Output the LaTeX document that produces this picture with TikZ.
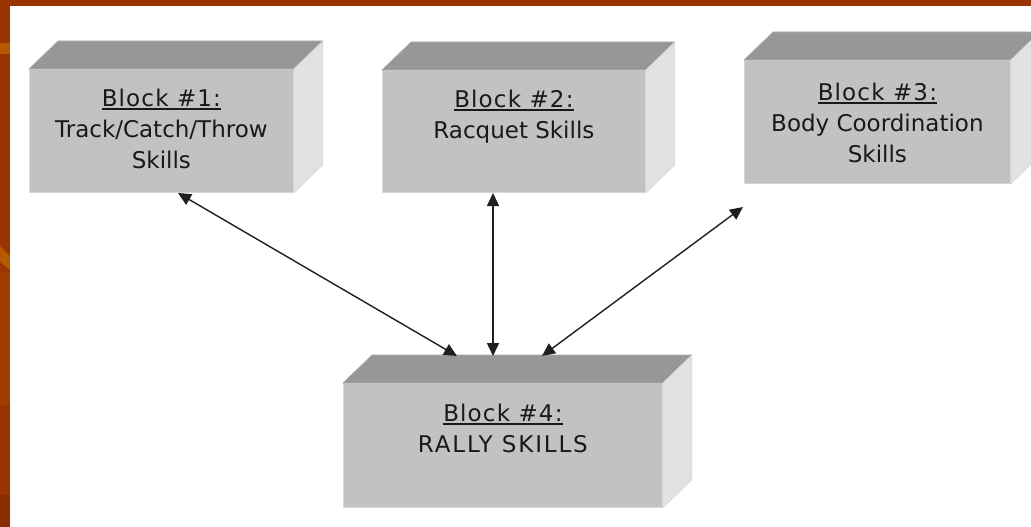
\documentclass[tikz,border=0pt]{standalone}
\usepackage{fontspec}
\setmainfont{DejaVu Sans}
\usetikzlibrary{arrows.meta,calc}
\definecolor{bandcol}{HTML}{993300}
\definecolor{bandlight}{HTML}{B35A00}
\definecolor{bandmid}{HTML}{A13D00}
\definecolor{banddark}{HTML}{8A2C00}
\definecolor{frontcol}{HTML}{C2C2C2}
\definecolor{topcol}{HTML}{979797}
\definecolor{sidecol}{HTML}{E2E2E2}
\definecolor{edgecol}{HTML}{D6D6D6}
\newcommand\blk[1]{\setbox0=\hbox{\addfontfeature{LetterSpace=5}#1}\rlap{\rule[-3.6pt]{\wd0}{1.9pt}}\box0}
\tikzset{
  front/.style={rectangle, fill=frontcol, draw=edgecol, line width=0.8pt, inner sep=0pt, anchor=north west},
  topface/.style={fill=topcol, draw=topcol!80!white, line width=0.6pt},
  sideface/.style={fill=sidecol, draw=edgecol, line width=0.6pt},
  label/.style={align=center, anchor=north, inner sep=0pt, text=black!90, font=\fontsize{23}{31}\selectfont},
  arr/.style={{Triangle[length=13pt,width=12pt]}-{Triangle[length=13pt,width=12pt]}, line width=1.4pt, black!88}
}
\newcommand\cube[1]{%
  \fill[topface] (#1.north west) -- ++(29,-28) -- ($(#1.north east)+(29,-28)$) -- (#1.north east) -- cycle;
  \fill[sideface] (#1.north east) -- ++(29,-28) -- ($(#1.south east)+(29,-28)$) -- (#1.south east) -- cycle;
}
\begin{document}
\begin{tikzpicture}[x=1pt,y=-1pt]
\useasboundingbox (0,0) rectangle (1031,527);
\clip (0,0) rectangle (1031,527);
% background frame
\fill[bandcol] (0,0) rectangle (1031,527);
\fill[bandlight] (0,43) rectangle (10,54);
\fill[bandlight] (0,246) -- (10,256) -- (10,270) -- (0,262) -- cycle;
\fill[bandmid] (0,272) rectangle (10,405);
\fill[banddark] (0,495) rectangle (10,527);
\fill[white] (10,6) rectangle (1031,527);

% blocks (front faces)
\node[front, minimum width=264pt, minimum height=123pt] (b1) at (29,69) {};
\node[front, minimum width=263pt, minimum height=122pt] (b2) at (382,70) {};
\node[front, minimum width=266pt, minimum height=123pt] (b3) at (744,60) {};
\node[front, minimum width=319pt, minimum height=124pt] (b4) at (343,383) {};
\cube{b1}\cube{b2}\cube{b3}\cube{b4}

% texts
\node[label] (t1) at ($(b1.north)+(0,20)$) {\blk{Block \#1:}\\Track/Catch/Throw\\Skills};
\node[label] (t2) at ($(b2.north)+(0,20)$) {\blk{Block \#2:}\\Racquet Skills};
\node[label] (t3) at ($(b3.north)+(0,23)$) {\blk{Block \#3:}\\Body Coordination\\Skills};
\node[label] (t4) at ($(b4.north)+(0,21)$) {\blk{Block \#4:}\\{\addfontfeature{LetterSpace=8}RALLY SKILLS}};

% connector end points
\coordinate (p1) at (178,193);
\coordinate (q1) at (457,356);
\coordinate (p2) at (493,193);
\coordinate (q2) at (493,356);
\coordinate (p3) at (743,207);
\coordinate (q3) at (542,356);
\draw[arr] (p1) -- (q1);
\draw[arr] (p2) -- (q2);
\draw[arr] (p3) -- (q3);
\end{tikzpicture}
\end{document}
